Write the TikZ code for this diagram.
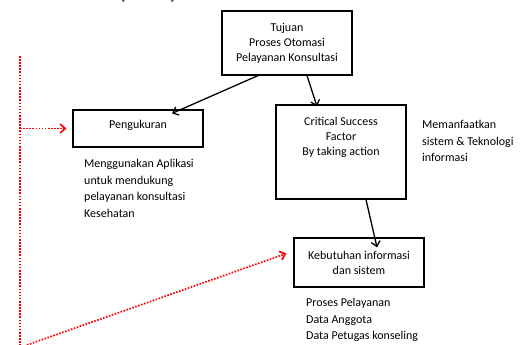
\documentclass[tikz,border=0pt]{standalone}
\usepackage{fontspec}
\setmainfont{Carlito}
\usepackage{xcolor}
\usetikzlibrary{arrows.meta,calc,positioning}
\tikzset{>={Straight Barb[length=5pt,width=9pt]}}
\tikzset{
  kotak/.style={draw, line width=1.2pt, minimum width=130pt},
  teks/.style={align=center, inner sep=0pt, font=\fontsize{12}{15}\selectfont},
  ket/.style={anchor=north west, align=left, inner sep=0pt, font=\fontsize{12}{16.5}\selectfont},
  panah/.style={->, line width=1.3pt},
  titik/.style={red, line width=1.7pt, dash pattern=on 1.6pt off 1.5pt}
}

\begin{document}
\begin{tikzpicture}[x=1pt,y=-1pt]
  \useasboundingbox (0,0) rectangle (525,345);

  % sisa judul di atas
  \node[anchor=base west, inner sep=0pt, text=black!70, font=\fontsize{30}{32}\selectfont] (judul) at (34,-1.5) {Factor (CSF).};

  % kotak-kotak
  \node[kotak, minimum height=64pt] (tujuan) at (287,43) {};
  \node[teks] (tujuanteks) at (tujuan) {Tujuan\\Proses Otomasi\\Pelayanan Konsultasi};
  \node[kotak, minimum height=37pt] (ukur) at (138,128.5) {};
  \node[teks] (ukurteks) at (138,125.5) {Pengukuran};
  \node[kotak, minimum height=94pt] (csf) at (341,152) {};
  \node[teks, anchor=north] (csfteks) at ([yshift=-13pt]csf.north) {Critical Success\\Factor\\By taking action};
  \node[kotak, minimum height=49pt] (butuh) at (359,262.5) {};
  \node[teks] (butuhteks) at (butuh) {Kebutuhan informasi\\dan sistem};

  % keterangan
  \node[ket] (ketukur) at (84,159) {Menggunakan Aplikasi\\untuk mendukung\\pelayanan konsultasi\\Kesehatan};
  \node[ket] (ketcsf) at (422,120) {Memanfaatkan\\sistem \& Teknologi\\informasi};
  \node[ket] (ketbutuh) at (306,298) {Proses Pelayanan\\Data Anggota\\Data Petugas konseling};

  % panah hitam
  \draw[panah] ([xshift=-29pt]tujuan.south) -- ([xshift=34pt,yshift=-4pt]ukur.north);
  \draw[panah] ([xshift=20pt]tujuan.south) -- ([xshift=-24pt,yshift=-2pt]csf.north);
  \draw[panah] ([xshift=25pt]csf.south) -- ([xshift=18pt,yshift=-10pt]butuh.north);

  % garis merah putus-putus
  \coordinate (atas) at (20,56);
  \coordinate (bawah) at (20,350);
  \coordinate (cabang) at (20,128.5);
  \coordinate (pojok) at (27,345);
  \draw[titik] (atas) -- (bawah);
  \draw[titik, ->] (cabang) -- ([xshift=-6pt]ukur.west);
  \draw[titik, ->] (pojok) -- ([xshift=-7pt,yshift=9pt]butuh.west);
\end{tikzpicture}
\end{document}
